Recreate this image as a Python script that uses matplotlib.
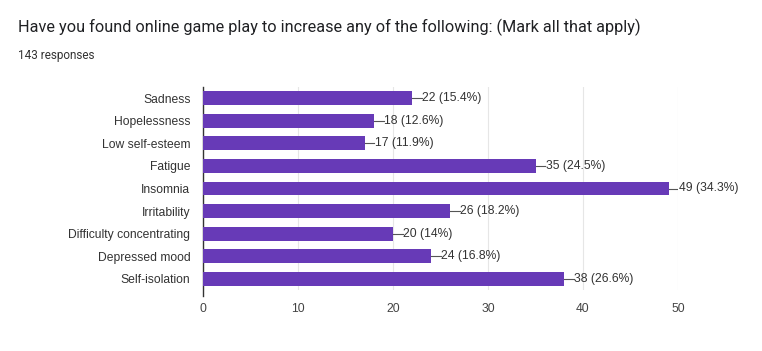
import matplotlib.pyplot as plt
import numpy as np

# data
categories = ['Sadness', 'Hopelessness', 'Low self-esteem', 'Fatigue', 'Insomnia',
              'Irritability', 'Difficulty concentrating', 'Depressed mood', 'Self-isolation']
counts = [22, 18, 17, 35, 49, 26, 20, 24, 38]
percents = ['15.4%', '12.6%', '11.9%', '24.5%', '34.3%', '18.2%', '14%', '16.8%', '26.6%']
xticks = [0, 10, 20, 30, 40, 50]

plt.rcParams['font.family'] = ['Liberation Sans', 'DejaVu Sans']

fig = plt.figure(figsize=(7.62, 3.51), dpi=100)
ax = fig.add_axes([203 / 762, 1 - 290 / 351, 475 / 762, 203 / 351])

y = np.arange(len(categories))
ax.barh(y, counts, height=0.62, color='#673ab7', zorder=3)

# value labels with small leader line
for yi, c, p in zip(y, counts, percents):
    ax.plot([c, c + 1.0], [yi, yi], color='#555555', lw=0.8, zorder=3)
    ax.text(c + 1.1, yi, '%d (%s)' % (c, p), va='center', ha='left',
            fontsize=8.7, color='#333333')

ax.set_ylim(len(categories) - 0.5, -0.5)
ax.set_xlim(0, 50)
ax.set_yticks(y)
ax.set_yticklabels(categories, fontsize=8.7, color='#333333')
ax.set_xticks(xticks)
ax.set_xticklabels([str(t) for t in xticks], fontsize=8.7, color='#444444')
ax.tick_params(length=0, pad=9)
ax.tick_params(axis='x', pad=9)

ax.grid(axis='x', color='#e6e6e6', lw=0.8, zorder=0)
for s in ['top', 'right', 'bottom']:
    ax.spines[s].set_visible(False)
ax.spines['left'].set_color('#333333')
ax.spines['left'].set_linewidth(1)
ax.spines['left'].set_bounds(len(categories) - 0.5 + 0.25, -0.5)

fig.text(18 / 762, 1 - 27 / 351, 'Have you found online game play to increase any of the following: (Mark all that apply)',
         fontsize=11.7, color='#202124', va='center', ha='left', family=['Roboto', 'DejaVu Sans'])
fig.text(18 / 762, 1 - 55 / 351, '143 responses', fontsize=8.5, color='#333333', va='center', ha='left',
         family=['Roboto', 'DejaVu Sans'])

fig.savefig('out.png', dpi=100, facecolor='white')
